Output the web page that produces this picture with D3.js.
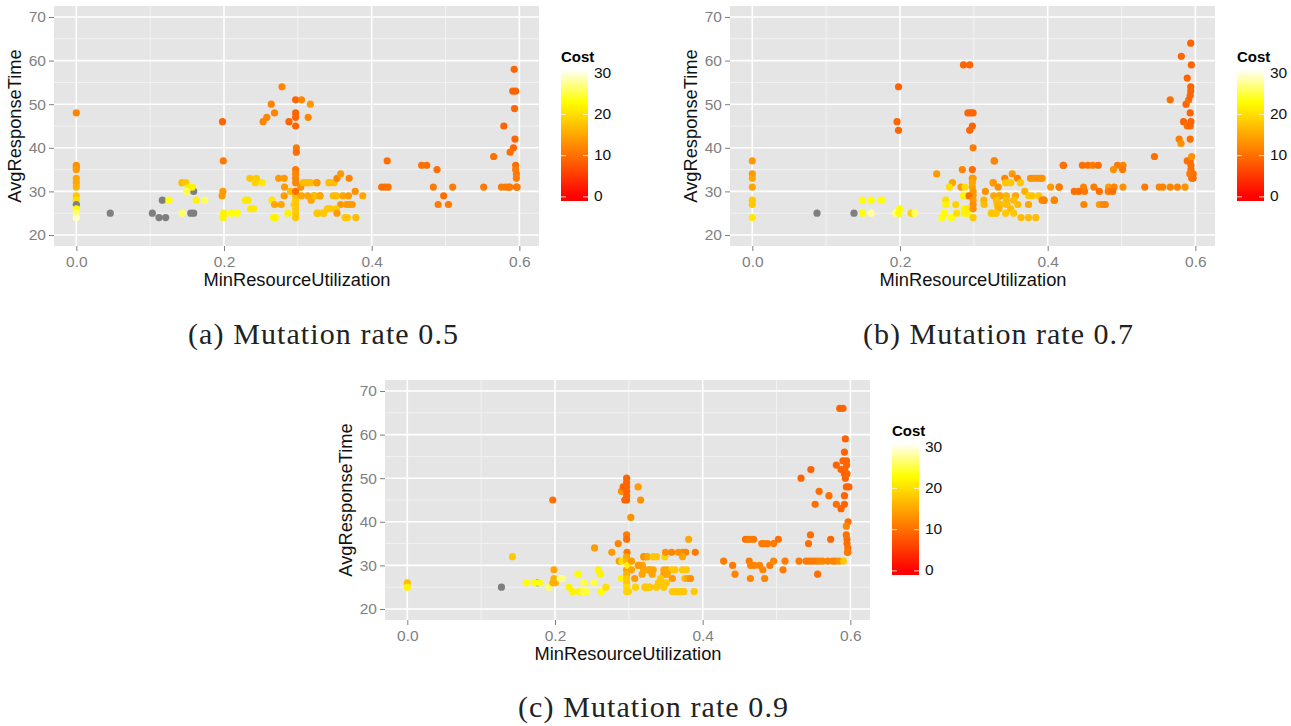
<!DOCTYPE html>
<html>
<head>
<meta charset="utf-8">
<script src="https://cdnjs.cloudflare.com/ajax/libs/d3/7.8.5/d3.min.js"></script>
<style>
html,body{margin:0;padding:0;background:#fff;}
svg{display:block;}
text{font-family:"Liberation Sans",Arial,sans-serif;}
.caption{font-family:"Liberation Serif",serif;font-size:30px;fill:#222;}
</style>
</head>
<body>
<div id="chart"></div>
<script>
// [MinResourceUtilization, AvgResponseTime, Cost], null cost = drawn grey
const rate05 = [
[0,48,12],[0,36,13],[0,35.5,13],[0,35,14],[0,33,15],[0,32,15],[0,31,16],[0,29,18],[0,28,20],[0,27,null],[0,26,23],[0,25,26],[0,24,29],
[.046,25,null],[.103,25,null],[.112,24,null],[.121,24,null],[.1165,28,null],[.159,30,null],[.155,25,null],[.159,25,null],
[.1255,28,23],[.143,32,17],[.1485,32,18],[.152,31,22],[.157,31,22],[.1495,30,25],[.1435,25,26],[.1625,28,22],[.174,28,26],
[.198,46,9],[.199,37,11],[.1985,30,14],[.1975,29,14],[.1995,25,22],[.199,24,22],[.21,25,23],[.218,25,23],
[.229,28,21],[.2325,28,21],[.235,33,18],[.244,33,18],[.2425,32,19],[.2515,32,21],[.236,26,21],[.24,26,21],
[.253,46,12],[.258,47,12],[.264,50,12],[.2685,48,12],[.2785,54,12],[.288,46,9],[.274,33,14],[.2815,33,14],[.282,31,14],[.2815,29,14],[.29,30,17],[.265,28,21],[.2685,27,15],[.2775,27,15],[.2865,25,22],[.267,24,22],[.2695,24,22],
[.297,24,18],[.297,25,18],[.297,26,18],[.295,27,19],[.297,27,18],[.297,28,18],[.297,29,17],[.297,51,9],[.297,48,9],[.297,47,9],[.297,45,9],[.298,40,11],[.298,39,10],[.297,35,11],[.297,34,12],[.297,33,12],[.297,32,12],[.297,30,10],
[.305,51,12],[.317,50,14],[.314,47,12],[.304,31,13],[.305,29,15],[.3075,32,17],[.312,32,17],[.3175,32,17],[.3255,32,15],[.3133,29,15],[.318,28,15],[.322,29,15],[.33,29,15],[.326,25,18],[.334,25,18],[.341,26,18],[.342,32,18],
[.3135,32,17],[.326,32,14],[.343,32,17],[.349,32,17],[.353,33,12],[.358,34,14],[.3695,33,12],[.3226,29,17],[.33,29,15],[.348,29,17],[.352,29,17],[.361,29,15],[.3686,29,14],[.3777,30,13],[.388,29,15],
[.358,27,14],[.366,27,14],[.37,27,14],[.3736,27,14],[.3266,25,18],[.335,25,18],[.34,26,18],[.345,26,18],[.352,26,18],[.353,25,14],[.364,24,18],[.367,24,18],[.3786,24,17],
[.421,37,10],[.4135,31,10],[.418,31,10],[.4223,31,10],[.4677,36,10],[.4745,36,10],[.4885,35,10],[.4835,31,11],[.5097,31,11],[.4975,29,10],[.49,27,11],[.504,27,11],[.5517,31,11],[.5652,38,10],[.5757,31,11],[.581,31,11],[.5854,31,11],[.587,31,11],
[.579,45,9],[.593,58,9],[.591,53,9],[.595,53,9],[.5935,49,9],[.594,42,9],[.592,40,9],[.5875,39,10],[.595,36,10],[.595,35,11],[.596,34,11],[.596,33,11],[.596,31,10],[.597,31,11]
];

const rate07 = [
[0,37,14],[0,34,14],[0,33,15],[0,31,15],[0,28,18],[0,27,18],[0,24,21],
[.0876,25,null],[.1377,25,null],
[.149,28,23],[.161,28,23],[.175,28,23],[.1495,25,23],[.161,25,28],[.194,25,27],[.1995,26,23],[.1986,25,23],[.215,25,19],[.22,25,26],
[.198,54,9],[.196,46,9],[.198,44,9],
[.2497,34,14],[.271,32,15],[.267,31,20],[.262,28,20],[.262,27,22],[.26,25,23],[.257,24,23],[.2695,24,23],[.2755,27,19],[.2767,25,20],
[.2844,35,12],[.2826,31,14],[.288,31,20],[.286,29,22],[.289,29,22],[.287,26,22],[.2912,26,21],[.2872,25,22],[.291,25,22],
[.286,59,9],[.2944,59,9],[.292,48,9],[.2957,48,9],[.299,48,9],[.298,45,9],[.2944,44,9],[.299,40,11],[.298,35,10],[.298,33,12],[.299,33,14],[.298,32,15],[.298,31,15],[.299,30,14],[.299,29,14],[.2935,29,10],[.299,28,14],[.299,27,13],[.299,26,13],[.299,24,18],
[.3156,30,13],[.3135,28,16],[.314,27,17],[.328,37,12],[.3264,32,14],[.333,31,13],[.327,29,15],[.334,29,15],[.3355,29,15],[.331,28,17],[.332,27,17],[.334,26,17],[.324,25,17],[.3296,25,17],
[.326,32,14],[.342,33,12],[.352,34,14],[.359,33,12],[.3275,37,12],[.343,32,18],[.35,32,18],[.363,32,18],[.3767,33,13],[.381,33,13],[.386,33,13],[.39,33,13],[.3925,33,13],[.404,31,14],[.4156,31,12],[.4214,36,10],
[.344,29,16],[.3564,29,15],[.369,30,16],[.3745,29,18],[.379,29,18],[.388,29,18],[.395,28,12],[.3925,28,12],[.409,28,13],[.3307,28,17],[.344,28,17],[.354,28,17],[.3316,27,17],[.336,27,17],[.345,27,17],[.3596,27,17],[.374,27,15],[.333,26,16],[.35,26,17],[.3235,25,18],[.33,25,18],[.343,25,18],[.354,25,18],[.364,24,17],[.374,24,17],[.384,24,17],
[.421,36,10],[.447,36,10],[.4545,36,10],[.461,36,11],[.4685,36,10],[.4946,36,11],[.502,36,12],[.489,35,13],[.5014,35,11],[.4156,31,11],[.4486,31,12],[.4626,31,11],[.4824,31,14],[.49,31,12],[.502,31,13],[.5315,31,11],[.551,31,12],[.556,31,12],[.566,31,12],[.5757,31,12],[.586,31,13],
[.436,30,10],[.442,30,10],[.45,30,11],[.47,30,10],[.482,30,11],[.488,30,10],[.395,28,12],[.409,28,12],[.449,27,12],[.47,27,14],[.475,27,12],[.478,27,12],
[.5446,38,10],[.566,51,10],[.5874,50,9],[.591,51,10],[.589,56,9],[.581,61,9],[.5937,64,9],[.5946,59,9],[.5937,54,9],[.5937,53,9],[.593,52,9],[.593,48,9],[.584,46,9],[.594,46,9],[.589,45,10],[.593,45,9],[.593,42,10],[.578,42,11],[.5806,41,13],
[.589,37,10],[.593,37,10],[.594,36,10],[.594,35,10],[.5925,34,11],[.597,34,10],[.595,33,11],[.597,33,10],[.595,38,13]
];

const rate09 = [
[0,26,17],[0,25,22],
[.1275,25,null],[.1766,26,null],
[.1423,32,18],[.161,26,23],[.172,26,23],[.179,26,23],[.1914,25,26],[.197,45,10],[.1986,29,15],[.1986,27,16],[.197,26,16],[.2005,26,16],[.207,27,27],[.21,27,27],
[.219,25,22],[.224,24,22],[.231,28,23],[.233,24,22],[.239,26,25],[.238,24,25],[.243,24,25],[.2527,26,25],[.2536,34,14],[.2586,29,22],[.2617,28,22],[.2626,24,23],[.269,25,20],[.277,33,14],[.2856,35,12],[.287,31,14],[.2905,31,20],[.29,27,22],[.29,47,13],
[.297,50,9],[.297,49,9],[.297,48,9],[.2923,48,9],[.297,47,9],[.297,46,9],[.297,45,9],[.2945,45,9],[.297,37,11],[.297,36,10],[.2975,33,11],[.297,32,15],[.297,31,16],[.297,29,14],[.297,28,16],[.297,27,18],[.297,26,18],[.297,25,20],[.297,24,19],[.2995,24,19],[.2985,30,22],
[.3126,48,14],[.316,45,13],[.3027,41,13],[.3036,31,14],[.3036,29,15],[.308,27,14],[.309,25,19],[.3126,30,15],[.3185,30,15],[.318,28,15],[.32,32,15],[.324,32,17],[.32,29,15],[.327,29,15],[.3225,25,19],[.326,25,19],
[.3208,32,13],[.325,32,15],[.333,32,18],[.3375,32,18],[.3488,32,19],[.3497,33,13],[.358,33,12],[.367,33,13],[.3727,33,13],[.377,33,12],[.39,33,11],[.3727,32,15],[.381,36,15],
[.3135,30,14],[.3217,29,15],[.3284,29,15],[.333,29,15],[.3474,29,15],[.352,29,15],[.358,29,18],[.3625,29,18],[.3727,29,18],[.378,29,18],
[.3316,28,15],[.3474,28,15],[.352,28,15],[.359,27,14],[.376,27,17],[.3795,27,15],[.3835,27,13],[.343,27,18],[.34,26,18],[.344,26,18],[.351,26,18],
[.3217,25,18],[.3284,25,18],[.3375,25,18],[.3474,25,18],[.359,24,18],[.3645,24,18],[.37,24,18],[.3745,24,18],[.3885,24,18],
[.4284,31,11],[.4406,30,11],[.4438,28,12],[.463,31,11],[.465,30,12],[.47,30,12],[.477,30,12],[.4815,29,12],[.491,30,11],[.496,31,12],[.5115,31,11],[.5088,29,11],[.4646,27,12],[.484,27,12],
[.458,36,10],[.4614,36,11],[.4646,36,11],[.469,36,11],[.48,35,11],[.4835,35,11],[.488,35,11],[.496,35,11],[.5025,36,10],
[.5332,50,9],[.5465,52,9],[.5577,47,10],[.5523,44,10],[.546,37,10],[.5433,35,10],[.5733,36,9],[.571,46,10],[.581,53,9],
[.5305,31,11],[.54,31,11],[.5447,31,11],[.549,31,11],[.5537,31,11],[.558,31,12],[.5625,31,12],[.5695,31,12],[.576,31,12],[.58,31,12],[.585,31,13],[.5906,31,18],[.5557,28,10],
[.5856,66,9],[.59,66,9],[.5932,59,9],[.592,56,9],[.59,54,9],[.5948,54,9],[.595,53,9],[.5874,52,9],[.592,52,9],[.592,51,9],[.5955,51,9],[.5932,50,9],[.5946,48,9],[.598,48,9],[.592,46,9],[.581,44,10],[.592,44,9],[.5874,43,9],[.597,40,10],[.5946,39,12],
[.5945,37,10],[.5955,36,10],[.5955,35,10],[.5965,34,10],[.5965,33,10],[.596,33,11]
];

const xTicks = [0, 0.2, 0.4, 0.6];
const xMinor = [0.1, 0.3, 0.5];
const yTicks = [20, 30, 40, 50, 60, 70];
const yMinor = [25, 35, 45, 55, 65];
const costTicks = [0, 10, 20, 30];

const width = 1291, height = 726;
const panelW = 485, panelH = 240;

const svg = d3.select("#chart").append("svg")
  .attr("width", width)
  .attr("height", height)
  .attr("viewBox", [0, 0, width, height]);

const color = d3.scaleLinear().domain([0, 23, 31]).range(["#ff0000", "#ffff00", "#ffffff"]).clamp(true);

// one gradient shared by the three legends
const grad = svg.append("defs").append("linearGradient")
  .attr("id", "costGrad")
  .attr("x1", 0).attr("y1", 1).attr("x2", 0).attr("y2", 0);
d3.range(0, 33, 1).forEach(v => {
  grad.append("stop").attr("offset", v / 32).attr("stop-color", color(v - 1));
});

const xScale = d3.scaleLinear().domain([-0.0302, 0.6266]).range([0, panelW]);
const yScale = d3.scaleLinear().domain([17.48, 72.52]).range([panelH, 0]);
const costScale = d3.scaleLinear().domain([-1, 31]).range([132, 0]);

const drawPanel = (points, dx, dy) => {
  const g = svg.append("g").attr("transform", `translate(${dx},${dy})`);

  g.append("rect").attr("width", panelW).attr("height", panelH).attr("fill", "#e5e5e5");

  g.selectAll(".minorX").data(xMinor).enter().append("line")
    .attr("x1", d => xScale(d)).attr("x2", d => xScale(d))
    .attr("y1", 0).attr("y2", panelH)
    .attr("stroke", "#f2f2f2").attr("stroke-width", 1);
  g.selectAll(".minorY").data(yMinor).enter().append("line")
    .attr("y1", d => yScale(d)).attr("y2", d => yScale(d))
    .attr("x1", 0).attr("x2", panelW)
    .attr("stroke", "#f2f2f2").attr("stroke-width", 1);
  g.selectAll(".majorX").data(xTicks).enter().append("line")
    .attr("x1", d => xScale(d)).attr("x2", d => xScale(d))
    .attr("y1", 0).attr("y2", panelH)
    .attr("stroke", "#fff").attr("stroke-width", 1.6);
  g.selectAll(".majorY").data(yTicks).enter().append("line")
    .attr("y1", d => yScale(d)).attr("y2", d => yScale(d))
    .attr("x1", 0).attr("x2", panelW)
    .attr("stroke", "#fff").attr("stroke-width", 1.6);

  g.selectAll("circle").data(points).enter().append("circle")
    .attr("cx", d => xScale(d[0]))
    .attr("cy", d => yScale(d[1]))
    .attr("r", 3.6)
    .attr("fill", d => d[2] === null ? "#7f7f7f" : color(d[2]));

  const xAxis = d3.axisBottom(xScale).tickValues(xTicks).tickFormat(d3.format(".1f")).tickSize(5).tickSizeOuter(0);
  const yAxis = d3.axisLeft(yScale).tickValues(yTicks).tickSize(5).tickSizeOuter(0);
  const ax = g.append("g").attr("transform", `translate(0,${panelH})`).call(xAxis);
  const ay = g.append("g").call(yAxis);
  [ax, ay].forEach(a => {
    a.select(".domain").remove();
    a.selectAll("line").attr("stroke", "#7f7f7f");
    a.selectAll("text").attr("fill", "#7f7f7f").style("font-size", "15.5px").style("font-family", '"Liberation Sans"');
  });
  ax.selectAll("text").attr("y", 10);
  ay.selectAll("text").attr("x", -8);

  g.append("text").attr("x", 243).attr("y", 280).attr("text-anchor", "middle")
    .style("font-size", "18.3px").attr("fill", "#111").text("MinResourceUtilization");
  g.append("text").attr("transform", "translate(-33,120) rotate(-90)").attr("text-anchor", "middle")
    .style("font-size", "18.3px").attr("fill", "#111").text("AvgResponseTime");

  // colourbar legend
  const lg = g.append("g").attr("transform", `translate(${561 - 54},${69 - 6})`);
  lg.append("text").attr("x", 0).attr("y", -7).style("font-size", "15px").style("font-weight", "bold").attr("fill", "#000").text("Cost");
  lg.append("rect").attr("width", 27).attr("height", 132).attr("fill", "url(#costGrad)");
  costTicks.forEach(t => {
    lg.append("line").attr("x1", 0).attr("x2", 5).attr("y1", costScale(t)).attr("y2", costScale(t)).attr("stroke", "#fff").attr("opacity", 0.8);
    lg.append("line").attr("x1", 22).attr("x2", 27).attr("y1", costScale(t)).attr("y2", costScale(t)).attr("stroke", "#fff").attr("opacity", 0.8);
  });
  lg.selectAll(".costLabel").data(costTicks).enter().append("text")
    .attr("x", 33).attr("y", d => costScale(d) + 4.5)
    .style("font-size", "15.5px").attr("fill", "#111").text(d => d);
};

drawPanel(rate05, 54, 6);
drawPanel(rate07, 730, 6);
drawPanel(rate09, 385, 380);

const captions = [
  {label: "(a) Mutation rate 0.5", x: 323, y: 344},
  {label: "(b) Mutation rate 0.7", x: 998, y: 344},
  {label: "(c) Mutation rate 0.9", x: 653, y: 717}
];
svg.selectAll(".caption").data(captions).enter().append("text")
  .attr("class", "caption")
  .attr("x", d => d.x).attr("y", d => d.y)
  .attr("text-anchor", "middle")
  .attr("textLength", 270)
  .attr("lengthAdjust", "spacing")
  .text(d => d.label);
</script>
</body>
</html>
